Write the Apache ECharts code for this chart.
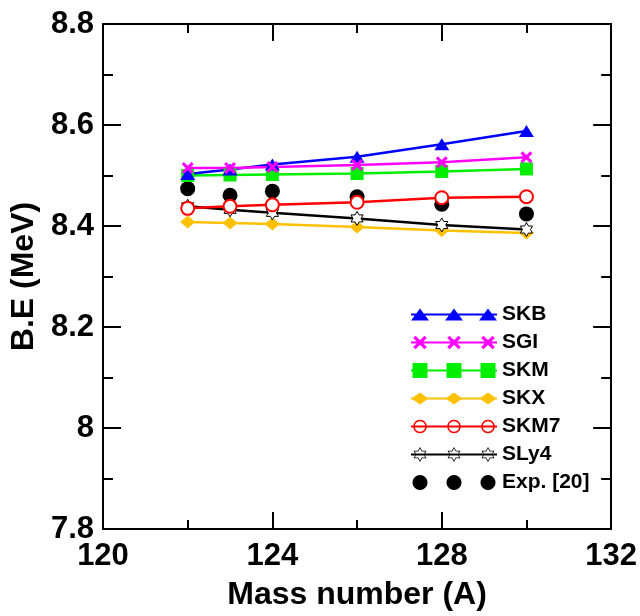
<!DOCTYPE html>
<html>
<head>
<meta charset="utf-8">
<script src="https://cdn.jsdelivr.net/npm/echarts@6/dist/echarts.min.js"></script>
<style>
  html, body { margin: 0; padding: 0; background: #fff; }
  #chart { width: 640px; height: 616px; }
</style>
</head>
<body>
<div id="chart"></div>
<script>
// values
const massNumbers = [122, 123, 124, 126, 128, 130];
const skb  = [8.503, 8.512, 8.522, 8.537, 8.562, 8.588];
const sgi  = [8.515, 8.515, 8.517, 8.521, 8.526, 8.536];
const skm  = [8.500, 8.501, 8.502, 8.504, 8.508, 8.513];
const skx  = [8.408, 8.406, 8.404, 8.398, 8.391, 8.386];
const skm7 = [8.435, 8.439, 8.442, 8.447, 8.456, 8.458];
const sly4 = [8.439, 8.432, 8.426, 8.415, 8.402, 8.393];
const expt = [8.474, 8.461, 8.469, 8.458, 8.443, 8.424];
const seriesNames = ['SKB', 'SGI', 'SKM', 'SKX', 'SKM7', 'SLy4', 'Exp. [20]'];

const FONT = 'Liberation Sans, Arial, sans-serif';

// --- little path helpers for symbols and legend icons ---
function poly(pts) {
  return 'M' + pts.map(p => p[0].toFixed(2) + ' ' + p[1].toFixed(2)).join(' L') + ' Z ';
}
function rotRect(cx, cy, len, thick, ang) {
  const c = Math.cos(ang), s = Math.sin(ang);
  return poly([[-len / 2, -thick / 2], [len / 2, -thick / 2], [len / 2, thick / 2], [-len / 2, thick / 2]]
    .map(p => [cx + p[0] * c - p[1] * s, cy + p[0] * s + p[1] * c]));
}
function circlePts(cx, cy, r, rev) {
  const pts = [];
  for (let i = 0; i < 24; i++) {
    const a = (rev ? -1 : 1) * i * Math.PI / 12;
    pts.push([cx + r * Math.cos(a), cy + r * Math.sin(a)]);
  }
  return pts;
}
function starPts(cx, cy, R, rev) {
  const pts = [];
  for (let k = 0; k < 12; k++) {
    const a = -Math.PI / 2 + (rev ? -1 : 1) * k * Math.PI / 6;
    const r = k % 2 === 0 ? R : R / Math.sqrt(3);
    pts.push([cx + r * Math.cos(a), cy + r * Math.sin(a)]);
  }
  return pts;
}
const crossSymbol = 'path://' + rotRect(6, 6, 15, 3.4, Math.PI / 4) + rotRect(6, 6, 15, 3.4, -Math.PI / 4);
const starSymbol = 'path://' + poly(starPts(0, 0, 10));

// legend icon: line with three markers, 86 x 16 box
const LW = 86, LH = 16, CY = 8;
const LX = [9, 43, 77];
function legendIcon(shape, withLine) {
  let d = 'M0 0 M' + LW + ' ' + LH + ' ';
  if (withLine) d += poly([[0, CY - 1], [LW, CY - 1], [LW, CY + 1], [0, CY + 1]]);
  LX.forEach(cx => { d += shape(cx); });
  return 'path://' + d;
}
const legendShapes = {
  'SKB': cx => poly([[cx - 9, CY + 6], [cx, CY - 6], [cx + 9, CY + 6]]),
  'SGI': cx => rotRect(cx, CY, 16, 3.4, Math.PI / 4) + rotRect(cx, CY, 16, 3.4, -Math.PI / 4),
  'SKM': cx => poly([[cx - 7.5, CY - 7.5], [cx + 7.5, CY - 7.5], [cx + 7.5, CY + 7.5], [cx - 7.5, CY + 7.5]]),
  'SKX': cx => poly([[cx - 8.5, CY], [cx, CY - 6], [cx + 8.5, CY], [cx, CY + 6]]),
  'SKM7': cx => poly(circlePts(cx, CY, 6.8)) + poly(circlePts(cx, CY, 5.3, true)),
  'SLy4': cx => poly(starPts(cx, CY, 7.5)) + poly(starPts(cx, CY, 6.1, true)),
  'Exp. [20]': cx => poly(circlePts(cx, CY, 7.5))
};
const legendColors = {
  'SKB': '#0000ff', 'SGI': '#ff00ff', 'SKM': '#00ee00', 'SKX': '#ffc000',
  'SKM7': '#ff0000', 'SLy4': '#000000', 'Exp. [20]': '#000000'
};

function pairs(vals) {
  return massNumbers.map((a, i) => [a, vals[i]]);
}

function lineSeries(name, vals, color, symbol, size, extra) {
  return Object.assign({
    name: name,
    type: 'line',
    data: pairs(vals),
    symbol: symbol,
    symbolSize: size,
    lineStyle: { color: color, width: 2.5 },
    itemStyle: { color: color },
    emphasis: { disabled: true }
  }, extra || {});
}

const chart = echarts.init(document.getElementById('chart'));

const tickStyle = { color: '#000', width: 2 };
const option = {
  backgroundColor: '#fff',
  animation: false,
  grid: { left: 101, right: 28, top: 24, bottom: 79 },
  legend: {
    orient: 'vertical',
    left: 411,
    top: 304,
    padding: 0,
    itemWidth: LW,
    itemHeight: LH,
    itemGap: 7,
    selectedMode: false,
    itemStyle: { borderWidth: 0, opacity: 1 },
    textStyle: { fontFamily: FONT, fontWeight: 'bold', fontSize: 21, color: '#000' },
    data: seriesNames.map(n => ({
      name: n,
      icon: legendIcon(legendShapes[n], n !== 'Exp. [20]'),
      itemStyle: { color: legendColors[n], borderWidth: 0, opacity: 1 }
    }))
  },
  xAxis: [{
    type: 'value',
    min: 120, max: 132, interval: 4,
    name: 'Mass number (A)',
    nameLocation: 'middle',
    nameGap: 50,
    nameTextStyle: { fontFamily: FONT, fontWeight: 'bold', fontSize: 32, color: '#000' },
    axisLine: { onZero: false, lineStyle: tickStyle },
    axisTick: { inside: true, length: 17, lineStyle: tickStyle },
    minorTick: { show: true, splitNumber: 2, length: 9, lineStyle: tickStyle },
    axisLabel: { fontFamily: FONT, fontWeight: 'bold', fontSize: 31, color: '#000', margin: 12 },
    splitLine: { show: false }
  }, {
    type: 'value', position: 'top',
    min: 120, max: 132, interval: 4,
    axisLine: { onZero: false, lineStyle: tickStyle },
    axisTick: { inside: true, length: 17, lineStyle: tickStyle },
    minorTick: { show: true, splitNumber: 2, length: 9, lineStyle: tickStyle },
    axisLabel: { show: false },
    splitLine: { show: false }
  }],
  yAxis: [{
    type: 'value',
    min: 7.8, max: 8.8, interval: 0.2,
    name: 'B.E (MeV)',
    nameLocation: 'middle',
    nameGap: 56,
    nameTextStyle: { fontFamily: FONT, fontWeight: 'bold', fontSize: 32, color: '#000' },
    axisLine: { onZero: false, lineStyle: tickStyle },
    axisTick: { inside: true, length: 18, lineStyle: tickStyle },
    minorTick: { show: true, splitNumber: 2, length: 10, lineStyle: tickStyle },
    axisLabel: { fontFamily: FONT, fontWeight: 'bold', fontSize: 31, color: '#000', margin: 9 },
    splitLine: { show: false }
  }, {
    type: 'value', position: 'right',
    min: 7.8, max: 8.8, interval: 0.2,
    axisLine: { onZero: false, lineStyle: tickStyle },
    axisTick: { inside: true, length: 18, lineStyle: tickStyle },
    minorTick: { show: true, splitNumber: 2, length: 10, lineStyle: tickStyle },
    axisLabel: { show: false },
    splitLine: { show: false }
  }],
  series: [
    lineSeries('SKX', skx, '#ffc000', 'diamond', [15, 13]),
    lineSeries('SLy4', sly4, '#000000', starSymbol, 14, {
      symbolKeepAspect: true,
      itemStyle: { color: '#fff', borderColor: '#000', borderWidth: 1 }
    }),
    lineSeries('SKM7', skm7, '#ff0000', 'emptyCircle', 13, {
      itemStyle: { color: '#ff0000', borderWidth: 1.5 }
    }),
    lineSeries('SKM', skm, '#00ee00', 'rect', 13),
    lineSeries('SKB', skb, '#0000ff', 'triangle', [15, 12]),
    lineSeries('SGI', sgi, '#ff00ff', crossSymbol, 12),
    {
      name: 'Exp. [20]',
      type: 'scatter',
      data: pairs(expt),
      symbol: 'circle',
      symbolSize: 15,
      itemStyle: { color: '#000', opacity: 1 },
      emphasis: { disabled: true }
    }
  ]
};
chart.setOption(option);
</script>
</body>
</html>
